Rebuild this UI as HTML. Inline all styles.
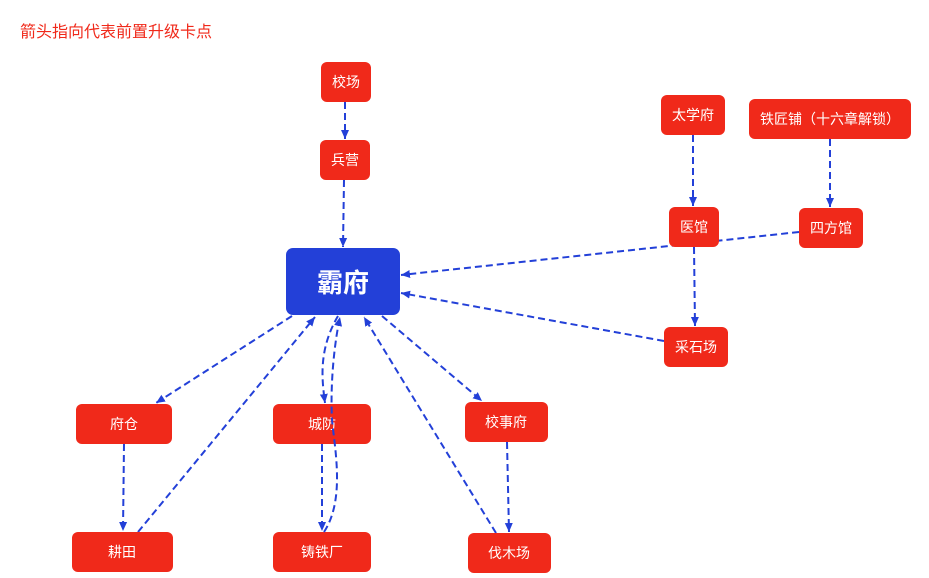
<!DOCTYPE html>
<html><head><meta charset="utf-8"><style>
html,body{margin:0;padding:0;background:#fff;width:929px;height:578px;overflow:hidden}
svg text{font-family:"Liberation Sans","Noto Sans CJK SC",sans-serif}
</style></head><body>
<svg width="929" height="578" viewBox="0 0 929 578" xmlns="http://www.w3.org/2000/svg">
<defs><marker id="a" markerWidth="10" markerHeight="10" refX="9" refY="5" orient="auto" markerUnits="userSpaceOnUse"><path d="M0,1 L9,5 L0,9 z" fill="#2340d8"/></marker></defs>
<text x="20" y="37" font-size="16" fill="#f0291a">箭头指向代表前置升级卡点</text>
<g stroke="#2340d8" stroke-width="2" stroke-dasharray="7,4" fill="none" marker-end="url(#a)">
<path d="M345,102 L345,139"/>
<path d="M344,180 L343,247"/>
<path d="M799,232 L401,275"/>
<path d="M664,341 L401,293"/>
<path d="M830,139 L830,207"/>
<path d="M693,135 L693,206"/>
<path d="M694,247 L695,326"/>
<path d="M292,316 L156,403"/>
<path d="M138,532 L315,317"/>
<path d="M338,316 C318,350 322,380 325,403"/>
<path d="M322,444 L322,531"/>
<path d="M124,444 L123,531"/>
<path d="M382,316 L482,401"/>
<path d="M496,533 L364,317"/>
<path d="M507,442 L509,532"/>
</g>
<g fill="#f0291a">
<rect x="321" y="62" width="50" height="40" rx="6"/>
<rect x="320" y="140" width="50" height="40" rx="6"/>
<rect x="661" y="95" width="64" height="40" rx="6"/>
<rect x="749" y="99" width="162" height="40" rx="6"/>
<rect x="669" y="207" width="50" height="40" rx="6"/>
<rect x="799" y="208" width="64" height="40" rx="6"/>
<rect x="664" y="327" width="64" height="40" rx="6"/>
<rect x="76" y="404" width="96" height="40" rx="6"/>
<rect x="273" y="404" width="98" height="40" rx="6"/>
<rect x="465" y="402" width="83" height="40" rx="6"/>
<rect x="72" y="532" width="101" height="40" rx="6"/>
<rect x="273" y="532" width="98" height="40" rx="6"/>
<rect x="468" y="533" width="83" height="40" rx="6"/>
</g>
<rect x="286" y="248" width="114" height="67" rx="7" fill="#2340d8"/>
<g fill="#fff" font-size="14" text-anchor="middle">
<text x="346" y="87">校场</text>
<text x="345" y="165">兵营</text>
<text x="693" y="120">太学府</text>
<text x="830" y="124">铁匠铺（十六章解锁）</text>
<text x="694" y="232">医馆</text>
<text x="831" y="233">四方馆</text>
<text x="696" y="352">采石场</text>
<text x="124" y="429">府仓</text>
<text x="322" y="429">城防</text>
<text x="506" y="427">校事府</text>
<text x="122" y="557">耕田</text>
<text x="322" y="557">铸铁厂</text>
<text x="509" y="558">伐木场</text>
<text x="343" y="292" font-size="26" font-weight="bold">霸府</text>
</g>
<path d="M324,532 C345,500 335,450 332,420 C330,380 335,340 340,317" stroke="#2340d8" stroke-width="2" stroke-dasharray="7,4" fill="none" marker-end="url(#a)"/>
</svg>
</body></html>
